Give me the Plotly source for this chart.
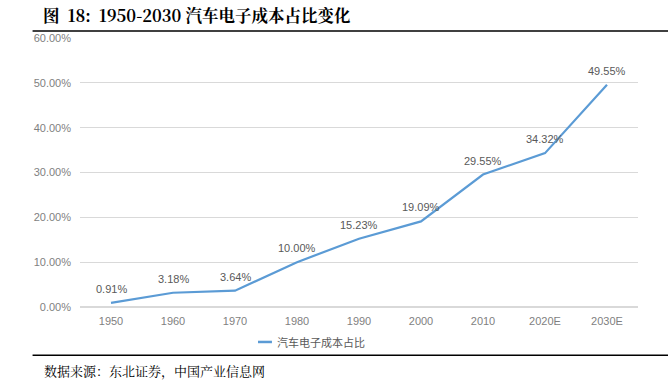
import plotly.graph_objects as go

categories = ["1950", "1960", "1970", "1980", "1990", "2000", "2010", "2020E", "2030E"]
values = [0.91, 3.18, 3.64, 10.00, 15.23, 19.09, 29.55, 34.32, 49.55]
labels = ["0.91%", "3.18%", "3.64%", "10.00%", "15.23%", "19.09%", "29.55%", "34.32%", "49.55%"]
series_name = "汽车电子成本占比"
y_ticks = [0, 10, 20, 30, 40, 50, 60]
y_tick_text = ["0.00%", "10.00%", "20.00%", "30.00%", "40.00%", "50.00%", "60.00%"]
title_text = "<b>图  18:  1950-2030 汽车电子成本占比变化</b>"
source_text = "数据来源：东北证券，中国产业信息网"

line_color = "#5B9BD5"
idx = list(range(len(categories)))

fig = go.Figure()
fig.add_trace(go.Scatter(
    x=idx, y=values, mode="lines", name=series_name,
    line=dict(color=line_color, width=2.2),
))

label_annotations = [
    dict(x=i, y=v, text=t, xref="x", yref="y", showarrow=False, yshift=14,
         font=dict(family="Liberation Sans, Arial", size=11, color="#595959"))
    for i, v, t in zip(idx, values, labels)
]

fig.update_layout(
    width=668, height=382,
    margin=dict(l=80, r=30, t=38, b=75),
    paper_bgcolor="white", plot_bgcolor="white",
    showlegend=False,
    xaxis=dict(range=[-0.5, 8.5], tickvals=idx, ticktext=categories,
               showgrid=False, showline=False, zeroline=False,
               ticks="", ticklabelstandoff=6,
               tickfont=dict(family="Liberation Sans, Arial", size=11, color="#7F7F7F")),
    yaxis=dict(range=[0, 60], tickvals=y_ticks, ticktext=y_tick_text,
               showgrid=True, gridcolor="#D9D9D9", gridwidth=1,
               zeroline=True, zerolinecolor="#D9D9D9", showline=False, ticks="",
               tickfont=dict(family="Liberation Sans, Arial", size=11, color="#7F7F7F"),
               ticklabelstandoff=8),
    annotations=label_annotations + [
        dict(text=series_name, xref="paper", yref="paper", x=0.349, y=-0.130,
             xanchor="left", yanchor="middle", showarrow=False,
             font=dict(family="Noto Sans CJK SC", size=11, color="#595959")),
        dict(text=title_text, xref="paper", yref="paper", x=-0.07, y=1.0, yanchor="bottom",
             xanchor="left", yshift=9, showarrow=False, align="left",
             font=dict(family="Noto Serif CJK SC, Liberation Serif, serif", size=16.5, color="#000000")),
        dict(text=source_text, xref="paper", yref="paper", x=-0.068, y=0, xanchor="left",
             yanchor="top", yshift=-52, showarrow=False,
             font=dict(family="Noto Serif CJK SC, Noto Sans CJK SC", size=13, color="#000000")),
    ],
    shapes=[
        dict(type="line", xref="paper", yref="paper", x0=0.319, x1=0.344, y0=-0.130, y1=-0.130,
             line=dict(color=line_color, width=2.5)),
        dict(type="line", xref="paper", yref="paper", x0=-0.085, x1=1.06, y0=1.026, y1=1.026,
             line=dict(color="#000000", width=1.5)),
        dict(type="line", xref="paper", yref="paper", x0=-0.085, x1=1.06, y0=-0.179, y1=-0.179,
             line=dict(color="#000000", width=1.5)),
    ],
)

fig.write_html("out.html", config={"displayModeBar": False},
               post_script="document.body.style.margin='0';")
